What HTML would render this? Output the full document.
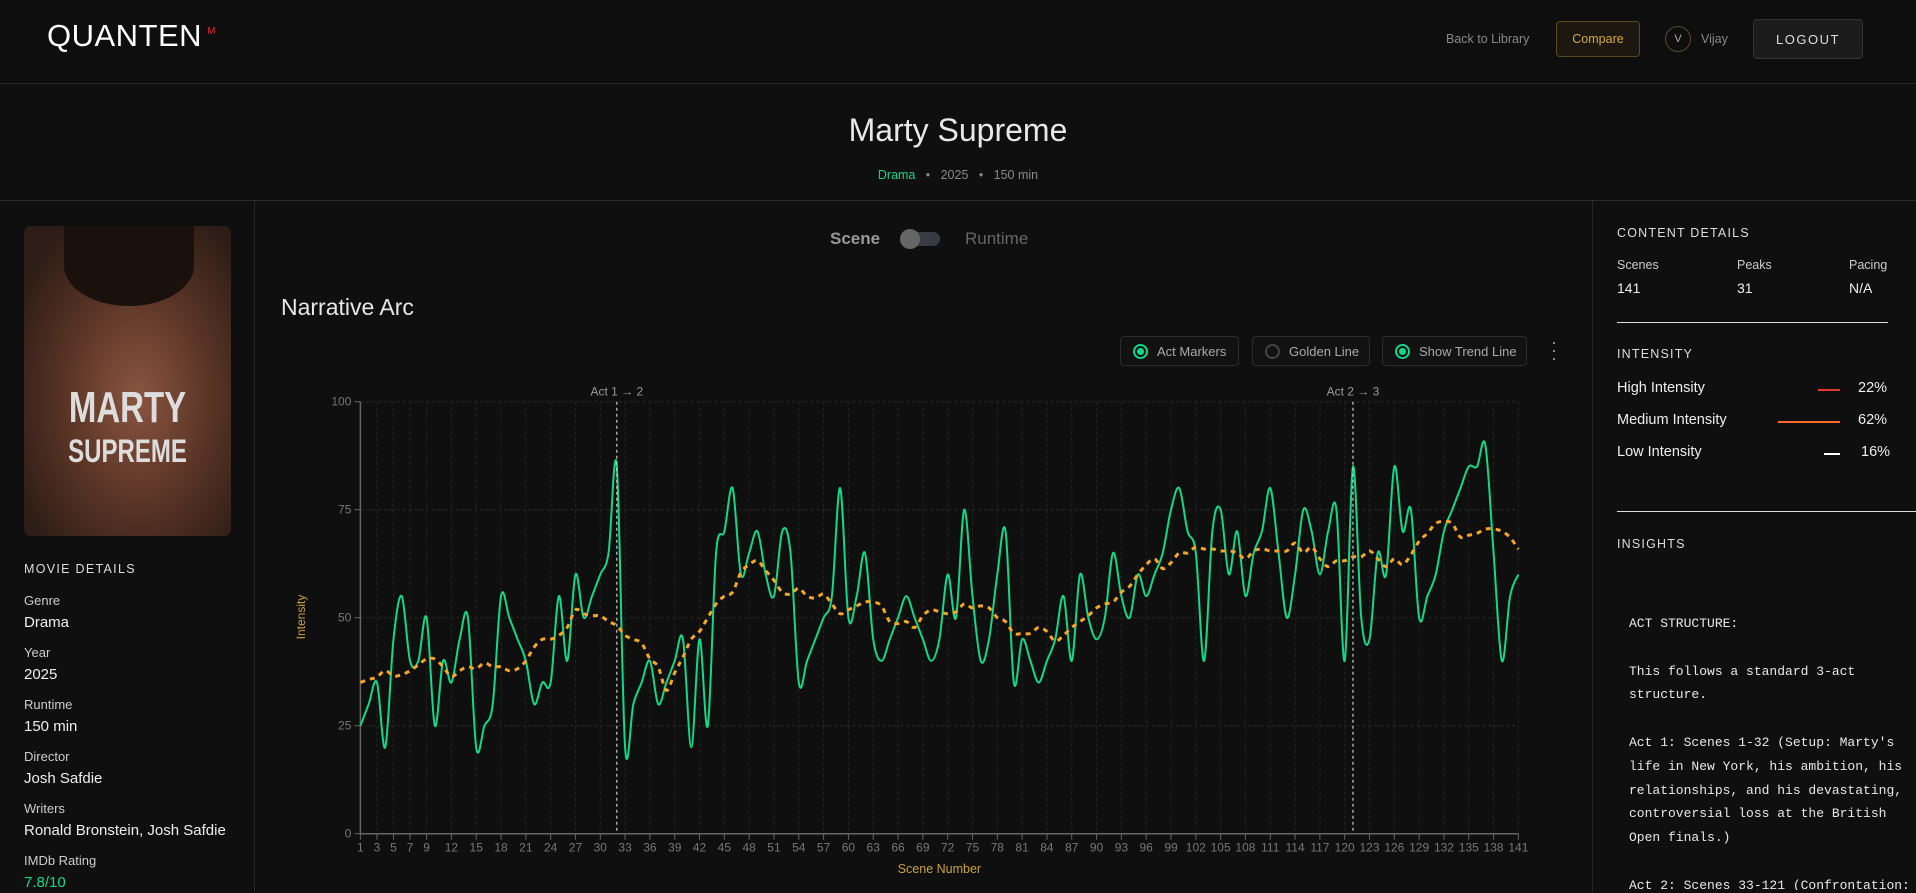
<!DOCTYPE html>
<html style="width:1916px;height:893px;overflow:hidden"><head><meta charset="utf-8">
<style>
*{box-sizing:border-box;margin:0;padding:0}
body{width:1916px;height:893px;overflow:hidden;background:#0f0f0f;font-family:"Liberation Sans",sans-serif;color:#ddd;position:relative}
.abs{position:absolute}
.hdr{left:0;top:0;width:1916px;height:84px;border-bottom:1px solid #2a2a2a;background:#0e0e0e}
.btn{border:1px solid #333;border-radius:4px;display:flex;align-items:center;justify-content:center}
.lbl{font-size:13px;color:#ccc;line-height:15px}
.val{font-size:15px;color:#eee;line-height:17px}
.mono{font-family:"Liberation Mono",monospace;font-size:13px;line-height:23.8px;color:#e8e8e8;white-space:pre}
.tog{height:30px;border:1px solid #2c2c2c;border-radius:4px;display:flex;align-items:center;font-size:13px;color:#aaa;background:#121212}
.rd{width:15px;height:15px;border-radius:50%;border:2px solid #10d98a;margin:0 9px 0 12px;display:flex;align-items:center;justify-content:center}
.rd i{width:7px;height:7px;border-radius:50%;background:#10d98a}
</style></head><body>
<div class="abs hdr"></div>
<div class="abs" style="left:47px;top:18px;font-size:31px;color:#fff;letter-spacing:0.5px">QUANTEN<sup style="color:#e0203a;font-size:10px;vertical-align:top;margin-left:5px;position:relative;top:8px">M</sup></div>
<div class="abs" style="left:1446px;top:32px;font-size:12.5px;color:#888">Back to Library</div>
<div class="abs btn" style="left:1556px;top:21px;width:84px;height:36px;border-color:#5a4a1e;background:#1c1810;color:#d4a93a;font-size:12.5px">Compare</div>
<div class="abs" style="left:1665px;top:26px;width:26px;height:26px;border:1px solid #5a4a1e;border-radius:50%;font-size:11px;color:#aaa;display:flex;align-items:center;justify-content:center">V</div>
<div class="abs" style="left:1701px;top:32px;font-size:12.5px;color:#888">Vijay</div>
<div class="abs btn" style="left:1753px;top:19px;width:110px;height:40px;background:#1c1c1c;color:#ddd;font-size:13px;letter-spacing:1.5px">LOGOUT</div>

<div class="abs" style="left:0;width:1916px;top:112px;text-align:center;font-size:32px;color:#e8e8e8;font-weight:300">Marty Supreme</div>
<div class="abs" style="left:0;width:1916px;top:168px;text-align:center;font-size:12.5px;color:#888"><span style="color:#10d98a">Drama</span>&nbsp;&nbsp;&nbsp;•&nbsp;&nbsp;&nbsp;2025&nbsp;&nbsp;&nbsp;•&nbsp;&nbsp;&nbsp;150 min</div>
<div class="abs" style="left:0;top:200px;width:1916px;border-top:1px solid #2a2a2a"></div>

<div class="abs" style="left:0;top:201px;width:255px;height:690px;border-right:1px solid #262626"></div>
<div class="abs" style="left:24px;top:226px;width:207px;height:310px;border-radius:7px;overflow:hidden;background:radial-gradient(ellipse at 55% 55%,#8a5540 0%,#5a3426 45%,#2c1d16 85%)">
<div style="position:absolute;left:40px;top:0;width:130px;height:80px;border-radius:0 0 50% 50%;background:#1a110c"></div>
<div style="position:absolute;left:0;width:207px;top:162px;text-align:center;font-weight:bold;font-size:44px;color:#ddd;line-height:40px;transform:scaleX(.75)">MARTY<br><span style="font-size:32px">SUPREME</span></div></div>
<div class="abs" style="left:24px;top:562px;font-size:12.5px;letter-spacing:1.3px;color:#ddd">MOVIE DETAILS</div>
<div class="abs lbl" style="left:24px;top:593px">Genre</div>
<div class="abs val" style="left:24px;top:614px">Drama</div>
<div class="abs lbl" style="left:24px;top:645px">Year</div>
<div class="abs val" style="left:24px;top:666px">2025</div>
<div class="abs lbl" style="left:24px;top:697px">Runtime</div>
<div class="abs val" style="left:24px;top:718px">150 min</div>
<div class="abs lbl" style="left:24px;top:749px">Director</div>
<div class="abs val" style="left:24px;top:770px">Josh Safdie</div>
<div class="abs lbl" style="left:24px;top:801px">Writers</div>
<div class="abs val" style="left:24px;top:822px">Ronald Bronstein, Josh Safdie</div>
<div class="abs lbl" style="left:24px;top:853px">IMDb Rating</div>
<div class="abs val" style="left:24px;top:874px;color:#10d98a">7.8/10</div>

<div class="abs" style="left:830px;top:229px;font-size:17px;color:#999;font-weight:bold">Scene</div>
<div class="abs" style="left:902px;top:232px;width:38px;height:14px;border-radius:7px;background:#3a3a44"><div style="position:absolute;left:-2px;top:-3px;width:20px;height:20px;border-radius:50%;background:#666"></div></div>
<div class="abs" style="left:965px;top:229px;font-size:17px;color:#666">Runtime</div>
<div class="abs" style="left:281px;top:294px;font-size:23px;color:#e8e8e8;font-weight:300">Narrative Arc</div>
<div class="abs tog" style="left:1120px;top:336px;width:119px"><span class="rd"><i></i></span>Act Markers</div>
<div class="abs tog" style="left:1252px;top:336px;width:118px"><span class="rd" style="border-color:#444"></span>Golden Line</div>
<div class="abs tog" style="left:1382px;top:336px;width:145px"><span class="rd"><i></i></span>Show Trend Line</div>
<div class="abs" style="left:1549px;top:338px;font-size:18px;color:#999;line-height:8px;width:10px;text-align:center">·<br>·<br>·</div>

<svg class="abs" id="chart" style="left:255px;top:370px" width="1337" height="518"></svg>

<div class="abs" style="left:1592px;top:201px;width:324px;height:690px;border-left:1px solid #262626"></div>
<div class="abs" style="left:1617px;top:226px;font-size:12.5px;letter-spacing:1.2px;color:#ddd">CONTENT DETAILS</div>
<div class="abs lbl" style="left:1617px;top:258px;font-size:12.5px">Scenes</div>
<div class="abs val" style="left:1617px;top:280px;font-size:14px">141</div>
<div class="abs lbl" style="left:1737px;top:258px;font-size:12.5px">Peaks</div>
<div class="abs val" style="left:1737px;top:280px;font-size:14px">31</div>
<div class="abs lbl" style="left:1849px;top:258px;font-size:12.5px">Pacing</div>
<div class="abs val" style="left:1849px;top:280px;font-size:14px">N/A</div>
<div class="abs" style="left:1617px;top:322px;width:271px;border-top:1px solid #ddd"></div>
<div class="abs" style="left:1617px;top:347px;font-size:12.5px;letter-spacing:1.2px;color:#ddd">INTENSITY</div>
<div class="abs" style="left:1617px;top:380px;font-size:14.5px;color:#eee">High Intensity</div>
<div class="abs" style="left:1818px;top:389px;width:22px;border-top:2px solid #e53935"></div>
<div class="abs" style="left:1858px;top:380px;font-size:14.5px;color:#eee">22%</div>
<div class="abs" style="left:1617px;top:412px;font-size:14.5px;color:#eee">Medium Intensity</div>
<div class="abs" style="left:1778px;top:421px;width:62px;border-top:2px solid #ff6a2a"></div>
<div class="abs" style="left:1858px;top:412px;font-size:14.5px;color:#eee">62%</div>
<div class="abs" style="left:1617px;top:444px;font-size:14.5px;color:#eee">Low Intensity</div>
<div class="abs" style="left:1824px;top:453px;width:16px;border-top:2px solid #fff"></div>
<div class="abs" style="left:1861px;top:444px;font-size:14.5px;color:#eee">16%</div>
<div class="abs" style="left:1617px;top:511px;width:299px;border-top:1px solid #ddd"></div>
<div class="abs" style="left:1617px;top:537px;font-size:12.5px;letter-spacing:1.2px;color:#ddd">INSIGHTS</div>
<div class="abs" style="left:1593px;top:590px;width:323px;height:300px;overflow:hidden">
<div class="mono" style="padding:22px 0 0 36px">ACT STRUCTURE:

This follows a standard 3-act
structure.

Act 1: Scenes 1-32 (Setup: Marty's
life in New York, his ambition, his
relationships, and his devastating,
controversial loss at the British
Open finals.)

Act 2: Scenes 33-121 (Confrontation:
Marty's fall from grace, humiliating
gigs, desperate schemes, and a
series of personal and professional
degradations culminating in the</div></div>

<script>
const scenes = Array.from({length:141},(_,i)=>i+1);
const intensity = [25,30,35,20,45,55,40,40,50,25,40,35,45,50,20,25,30,55,50,45,40,30,35,35,55,40,60,50,55,60,65,85,20,30,35,40,30,35,40,45,20,45,25,65,70,80,60,65,70,60,55,70,65,35,40,45,50,55,80,50,55,65,45,40,45,50,55,50,45,40,45,60,50,75,55,40,45,60,70,35,45,40,35,40,45,55,40,60,50,45,50,65,55,50,60,55,60,65,75,80,70,65,40,70,75,60,70,55,65,70,80,65,50,60,75,70,60,70,75,40,85,50,45,65,60,85,70,75,50,55,60,70,75,80,85,85,90,65,40,55,60];
const yTicks = [0,25,50,75,100];
const xTickLabels = [1,3,5,7,9].concat(Array.from({length:44},(_,i)=>12+3*i));
const actBreaks = [32,121];
const actLabels = ["Act 1 \u2192 2","Act 2 \u2192 3"];
const trendWindow = 11;

const svg = document.getElementById('chart');
const NS='http://www.w3.org/2000/svg';
const OX=255, OY=370;
const X0=360.4-OX, X1=1518.4-OX, Y0=833.7-OY, Y1=401.7-OY;
const xs = n => X0 + (n-1)/(scenes.length-1)*(X1-X0);
const ys = v => Y0 + v/100*(Y1-Y0);
function mk(tag, attrs){const e=document.createElementNS(NS,tag);for(const k in attrs)e.setAttribute(k,attrs[k]);svg.appendChild(e);return e;}

yTicks.forEach(t=>{
  const g=mk('line',{x1:X0,x2:X1,y1:ys(t),y2:ys(t),stroke:'#2a2a2a','stroke-dasharray':'3 3'});
  
  
  const tk=mk('line',{x1:X0-6,x2:X0,y1:ys(t),y2:ys(t),stroke:'#666'});
  
  
  const tx=mk('text',{x:X0-9,y:ys(t)+4,'text-anchor':'end',fill:'#777','font-size':12,'font-family':'Liberation Sans, sans-serif'});
  tx.textContent=t;
  
  
});
xTickLabels.forEach(n=>{
  const g=mk('line',{x1:xs(n),x2:xs(n),y1:Y1,y2:Y0,stroke:'#262626','stroke-dasharray':'3 3'});
  
  
  const tk=mk('line',{x1:xs(n),x2:xs(n),y1:Y0,y2:Y0+6,stroke:'#666'});
  
  
  const tx=mk('text',{x:xs(n),y:Y0+18,'text-anchor':'middle',fill:'#777','font-size':12,'font-family':'Liberation Sans, sans-serif'});
  tx.textContent=n;
  
  
});
const ax=mk('path',{d:`M${X0} ${Y1}V${Y0}H${X1}`,stroke:'#666',fill:'none','stroke-width':1.5});



const yl=mk('text',{x:0,y:0,transform:`translate(${305-OX},${617-OY}) rotate(-90)`,'text-anchor':'middle',fill:'#c9a23a','font-size':12,'font-family':'Liberation Sans, sans-serif'});
yl.textContent='Intensity';


const xl=mk('text',{x:(X0+X1)/2,y:873-OY,'text-anchor':'middle',fill:'#c9a23a','font-size':12.5,'font-family':'Liberation Sans, sans-serif'});
xl.textContent='Scene Number';



function spline(pts){
  let d=`M${pts[0][0]} ${pts[0][1]}`;
  for(let i=0;i<pts.length-1;i++){
    const p0=pts[Math.max(0,i-1)],p1=pts[i],p2=pts[i+1],p3=pts[Math.min(pts.length-1,i+2)];
    const c1x=p1[0]+(p2[0]-p0[0])/6,c1y=p1[1]+(p2[1]-p0[1])/6;
    const c2x=p2[0]-(p3[0]-p1[0])/6,c2y=p2[1]-(p3[1]-p1[1])/6;
    d+=`C${c1x} ${c1y} ${c2x} ${c2y} ${p2[0]} ${p2[1]}`;
  }
  return d;
}
const trend = intensity.map((v,i)=>{let s=0,c=0;const h=Math.floor(trendWindow/2);for(let j=i-h;j<=i+h;j++){if(j>=0&&j<intensity.length){s+=intensity[j];c++;}}return s/c;});

const line=mk('path',{d:spline(intensity.map((v,i)=>[xs(scenes[i]),ys(v)])),stroke:'#10d98a',fill:'none','stroke-width':2});


const tl=mk('path',{d:spline(trend.map((v,i)=>[xs(scenes[i]),ys(v)])),stroke:'#f5a623',fill:'none','stroke-width':3,'stroke-dasharray':'5 5'});



actBreaks.forEach((n,i)=>{
  const l=mk('line',{x1:xs(n),x2:xs(n),y1:Y1,y2:Y0,stroke:'#ccc','stroke-dasharray':'3 3','stroke-width':1.2});
  
  
  const t=mk('text',{x:xs(n),y:Y1-6,'text-anchor':'middle',fill:'#999','font-size':12,'font-family':'Liberation Sans, sans-serif'});
  t.textContent=actLabels[i];
  
  
});
</script>
</body></html>
